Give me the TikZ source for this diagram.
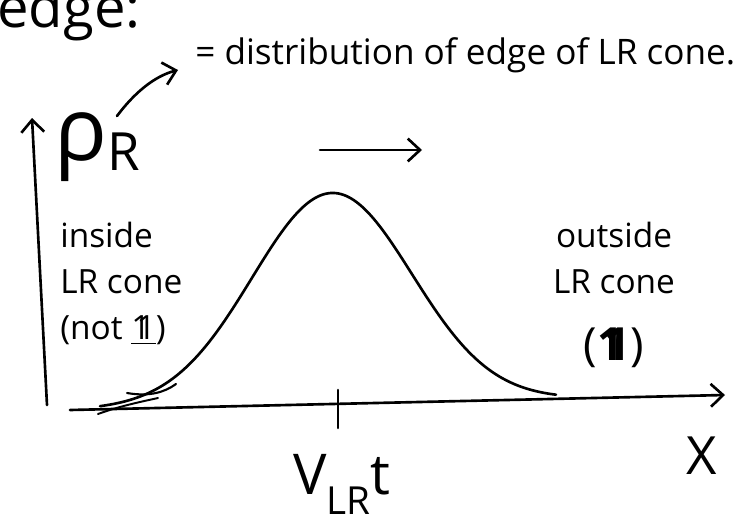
\documentclass[tikz,border=0pt]{standalone}
\usepackage{fontspec}
\usepackage{amsmath,amssymb}
\setmainfont{Open Sans}
\usetikzlibrary{arrows.meta,positioning}
\newcommand{\unitone}{\mbox{\rlap{1}\kern0.16em 1}}

\begin{document}
\begin{tikzpicture}[x=0.02cm,y=-0.02cm,
  every node/.style={font=\fontsize{19}{26}\selectfont,inner sep=0pt},
  pen/.style={line width=1.5pt,line cap=round},
  tip/.style={-{Straight Barb[length=7pt,width=13pt,line width=1.5pt]}}]
\useasboundingbox (0,0) rectangle (748,524);

% heading and definition
\node[anchor=base west,font=\fontsize{32}{32}\selectfont] (edge) at (-3,28) {edge:};
\node[anchor=base west,font=\fontsize{20}{20}\selectfont] (defn) at (195,64) {= distribution of edge of LR cone.};
\node[anchor=base west,font=\fontsize{50}{50}\selectfont] (rho) at (54,160)
  {ρ\raisebox{-0.12em}{\fontsize{30}{30}\selectfont R}};
\draw[pen,tip] (117,116) .. controls (135,92) and (155,76) .. (178,70);

% axes
\coordinate (o) at (47,405);
\coordinate (ytop) at (32,118);
\coordinate (xl) at (70,410);
\coordinate (xr) at (725,395);
\draw[pen,tip] (o) -- (ytop);
\draw[pen,tip] (xl) -- (xr);
\node[font=\fontsize{30}{30}\selectfont] (xlab) at (702,456) {X};

% moving front
\coordinate (mvs) at (320,150);
\coordinate (mve) at (422,150);
\draw[pen,tip] (mvs) -- (mve);

% bump
\draw[pen] plot[domain=100:556,samples=90,smooth]
  (\x,{410-0.0229*(\x-70)-211*exp(-((\x-332)/80)^2/2)});
\draw[pen,line width=1.2pt] (127,393) .. controls (150,397) and (165,392) .. (176,384);
\draw[pen,line width=1.1pt] (98,414) .. controls (120,406) and (140,402) .. (158,398);

% tick at V_LR t
\coordinate (tickt) at (338,390);
\coordinate (tickb) at (338,428);
\draw[pen] (tickt) -- (tickb);
\node[anchor=base,font=\fontsize{32}{32}\selectfont] (vt) at (342,494)
  {V\raisebox{-0.36em}{\fontsize{22}{22}\selectfont LR}t};

% regions
\node[anchor=north west,align=left] (inside) at (60,222)
  {inside\\LR cone\\(not \underline{\unitone})};
\node[anchor=north,align=center] (outside) at (614,222)
  {outside\\LR cone\\[12pt]{\fontsize{26}{26}\selectfont(\textbf{\unitone})}};
\end{tikzpicture}
\end{document}
